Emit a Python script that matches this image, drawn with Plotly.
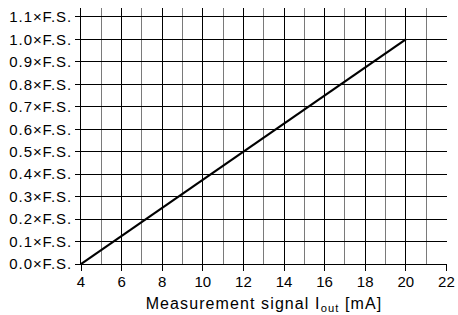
import plotly.graph_objects as go

# Data
signal_mA = [4, 20]
output_fs = [0.0, 1.0]
y_tick_vals = [0.0, 0.1, 0.2, 0.3, 0.4, 0.5, 0.6, 0.7, 0.8, 0.9, 1.0, 1.1]
y_tick_text = ["0.0×F.S.", "0.1×F.S.", "0.2×F.S.", "0.3×F.S.", "0.4×F.S.", "0.5×F.S.",
               "0.6×F.S.", "0.7×F.S.", "0.8×F.S.", "0.9×F.S.", "1.0×F.S.", "1.1×F.S."]
x_tick_vals = [4, 6, 8, 10, 12, 14, 16, 18, 20, 22]
x_title = "Measurement signal I<sub>out</sub> [mA]"

FONT = "Liberation Sans, Arial, sans-serif"

fig = go.Figure()
fig.add_trace(go.Scatter(
    x=signal_mA, y=output_fs, mode="lines",
    line=dict(color="black", width=2.2),
    showlegend=False, hoverinfo="skip",
))

fig.update_layout(
    width=458, height=315,
    margin=dict(l=81, r=11, t=8, b=51, autoexpand=False),
    paper_bgcolor="white", plot_bgcolor="white",
    font=dict(family=FONT, size=15, color="black"),
)

fig.update_xaxes(
    range=[4, 22.03],
    tickvals=x_tick_vals,
    ticks="outside", ticklen=6, tickwidth=1, tickcolor="black",
    showline=True, linecolor="black", linewidth=1,
    showgrid=True, gridcolor="black", gridwidth=1,
    minor=dict(dtick=1, tick0=4, showgrid=True, gridcolor="#7a7a7a", gridwidth=1, ticks=""),
    zeroline=False, automargin=False,
    ticklabelstandoff=-2,
    title=dict(text=x_title, font=dict(size=16), standoff=8),
    tickfont=dict(size=15),
)

fig.update_yaxes(
    range=[0, 1.14],
    tickvals=y_tick_vals, ticktext=y_tick_text,
    ticks="outside", ticklen=5, tickwidth=1, tickcolor="black",
    showline=True, linecolor="black", linewidth=1,
    showgrid=True, gridcolor="black", gridwidth=1.2,
    zeroline=False, automargin=False,
    tickfont=dict(size=15),
)

post = """
document.body.style.margin = '0';
var gd = document.getElementById('{plot_id}');
gd.querySelectorAll('.ytick text').forEach(function(t){t.setAttribute('letter-spacing','0.9px');});
gd.querySelectorAll('.g-xtitle text').forEach(function(t){t.setAttribute('letter-spacing','1.1px');});
"""

fig.write_html("out.html", post_script=post, config={"displayModeBar": False})
